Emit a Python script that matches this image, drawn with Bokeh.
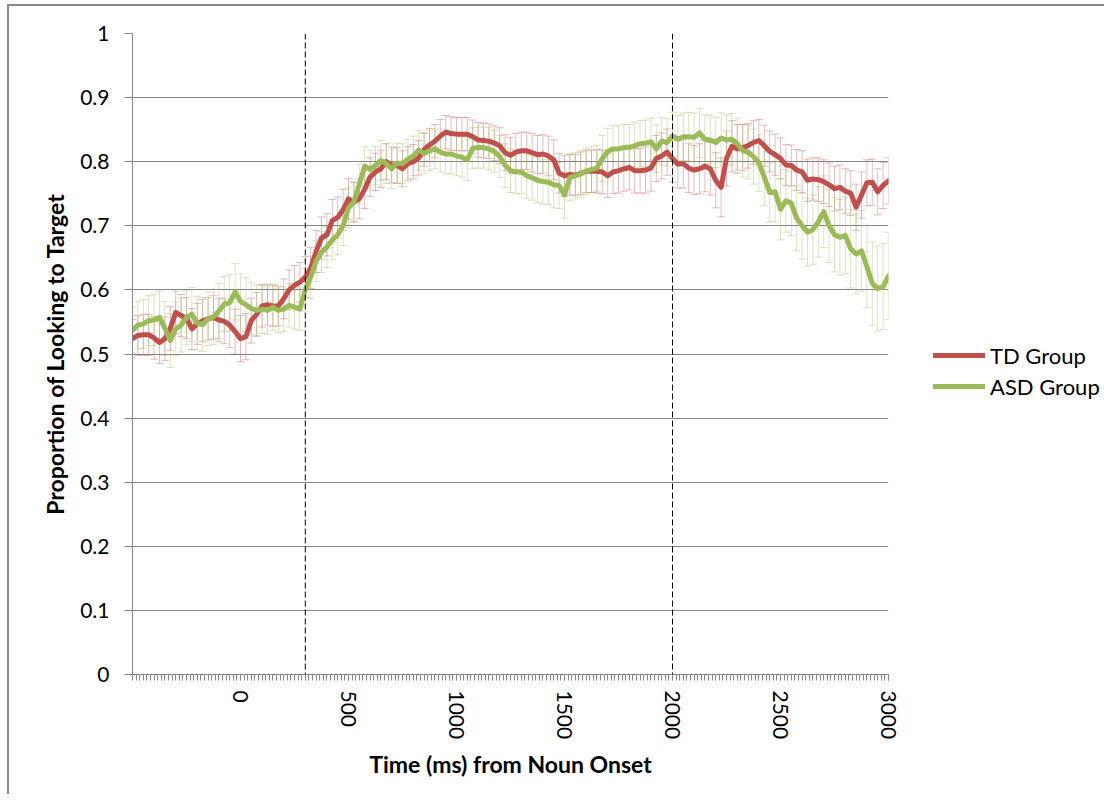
import math
from bokeh.plotting import figure
from bokeh.models import (ColumnDataSource, Span, Whisker, TeeHead, Legend, LegendItem,
                          FixedTicker, Range1d, NumeralTickFormatter)
from bokeh.embed import file_html
from bokeh.resources import INLINE

# ---------------- data ----------------
time_ms = list(range(-500, 3001, 25))

td_mean = [
    0.524, 0.529, 0.530, 0.530, 0.525, 0.518, 0.524, 0.540, 0.565, 0.560,
    0.556, 0.539, 0.547, 0.552, 0.555, 0.557, 0.553, 0.551, 0.545, 0.535,
    0.524, 0.527, 0.552, 0.562, 0.575, 0.577, 0.575, 0.575, 0.586, 0.600,
    0.607, 0.612, 0.620, 0.634, 0.660, 0.681, 0.686, 0.708, 0.713, 0.725,
    0.742, 0.737, 0.742, 0.757, 0.776, 0.784, 0.789, 0.800, 0.795, 0.794,
    0.789, 0.797, 0.800, 0.806, 0.819, 0.826, 0.832, 0.840, 0.846, 0.844,
    0.843, 0.843, 0.843, 0.839, 0.834, 0.833, 0.832, 0.829, 0.825, 0.814,
    0.810, 0.815, 0.817, 0.817, 0.814, 0.811, 0.812, 0.809, 0.803, 0.782,
    0.778, 0.780, 0.779, 0.782, 0.785, 0.785, 0.785, 0.784, 0.778, 0.784,
    0.786, 0.789, 0.791, 0.786, 0.786, 0.787, 0.790, 0.805, 0.809, 0.815,
    0.805, 0.796, 0.797, 0.790, 0.787, 0.789, 0.793, 0.789, 0.771, 0.760,
    0.805, 0.824, 0.820, 0.822, 0.825, 0.830, 0.833, 0.825, 0.816, 0.811,
    0.805, 0.795, 0.794, 0.787, 0.784, 0.771, 0.773, 0.772, 0.769, 0.764,
    0.758, 0.760, 0.754, 0.751, 0.729, 0.748, 0.767, 0.768, 0.753, 0.763,
    0.770,
]

td_err = [
    0.030, 0.031, 0.032, 0.032, 0.033, 0.033, 0.034, 0.034, 0.033, 0.033,
    0.032, 0.032, 0.032, 0.033, 0.033, 0.034, 0.034, 0.035, 0.035, 0.035,
    0.036, 0.036, 0.035, 0.034, 0.033, 0.032, 0.032, 0.031, 0.031, 0.031,
    0.031, 0.031, 0.032, 0.032, 0.033, 0.033, 0.033, 0.033, 0.032, 0.032,
    0.032, 0.031, 0.031, 0.030, 0.030, 0.029, 0.029, 0.028, 0.028, 0.028,
    0.028, 0.027, 0.027, 0.027, 0.026, 0.026, 0.026, 0.026, 0.026, 0.026,
    0.026, 0.026, 0.026, 0.026, 0.027, 0.027, 0.027, 0.027, 0.028, 0.028,
    0.028, 0.029, 0.029, 0.029, 0.030, 0.030, 0.030, 0.031, 0.031, 0.031,
    0.032, 0.032, 0.032, 0.033, 0.033, 0.033, 0.034, 0.034, 0.034, 0.034,
    0.035, 0.035, 0.035, 0.035, 0.035, 0.036, 0.036, 0.036, 0.036, 0.036,
    0.037, 0.037, 0.038, 0.038, 0.038, 0.039, 0.040, 0.041, 0.043, 0.046,
    0.043, 0.040, 0.038, 0.036, 0.035, 0.034, 0.033, 0.032, 0.032, 0.032,
    0.032, 0.032, 0.032, 0.032, 0.033, 0.033, 0.033, 0.034, 0.034, 0.034,
    0.035, 0.035, 0.035, 0.035, 0.036, 0.036, 0.036, 0.036, 0.036, 0.036,
    0.036,
]

asd_mean = [
    0.537, 0.545, 0.547, 0.552, 0.553, 0.557, 0.540, 0.521, 0.539, 0.545,
    0.557, 0.562, 0.548, 0.546, 0.555, 0.558, 0.567, 0.578, 0.580, 0.597,
    0.582, 0.577, 0.571, 0.568, 0.570, 0.568, 0.573, 0.568, 0.570, 0.576,
    0.573, 0.570, 0.600, 0.620, 0.645, 0.659, 0.667, 0.678, 0.686, 0.700,
    0.728, 0.737, 0.765, 0.793, 0.788, 0.794, 0.802, 0.797, 0.789, 0.798,
    0.797, 0.804, 0.809, 0.818, 0.813, 0.817, 0.820, 0.815, 0.812, 0.812,
    0.809, 0.807, 0.803, 0.821, 0.822, 0.822, 0.820, 0.816, 0.808, 0.794,
    0.786, 0.784, 0.784, 0.778, 0.775, 0.771, 0.769, 0.768, 0.764, 0.763,
    0.748, 0.775, 0.778, 0.781, 0.785, 0.788, 0.790, 0.805, 0.816, 0.820,
    0.820, 0.822, 0.822, 0.825, 0.828, 0.829, 0.831, 0.820, 0.832, 0.830,
    0.840, 0.835, 0.839, 0.839, 0.838, 0.845, 0.835, 0.834, 0.830, 0.837,
    0.834, 0.835, 0.828, 0.817, 0.815, 0.808, 0.798, 0.776, 0.752, 0.753,
    0.726, 0.739, 0.735, 0.712, 0.700, 0.690, 0.694, 0.706, 0.722, 0.700,
    0.686, 0.682, 0.685, 0.664, 0.656, 0.661, 0.636, 0.610, 0.602, 0.605,
    0.622,
]

asd_err = [
    0.036, 0.037, 0.038, 0.039, 0.040, 0.041, 0.042, 0.042, 0.042, 0.042,
    0.042, 0.042, 0.042, 0.042, 0.042, 0.043, 0.043, 0.043, 0.044, 0.044,
    0.043, 0.042, 0.041, 0.040, 0.038, 0.037, 0.036, 0.035, 0.035, 0.034,
    0.034, 0.033, 0.033, 0.033, 0.032, 0.032, 0.032, 0.031, 0.031, 0.031,
    0.031, 0.031, 0.031, 0.030, 0.030, 0.030, 0.031, 0.031, 0.031, 0.031,
    0.031, 0.031, 0.031, 0.031, 0.031, 0.031, 0.031, 0.031, 0.031, 0.031,
    0.031, 0.031, 0.032, 0.032, 0.032, 0.032, 0.033, 0.033, 0.033, 0.034,
    0.034, 0.034, 0.034, 0.035, 0.035, 0.035, 0.035, 0.035, 0.036, 0.036,
    0.036, 0.036, 0.036, 0.036, 0.036, 0.036, 0.036, 0.036, 0.036, 0.036,
    0.036, 0.036, 0.036, 0.036, 0.036, 0.036, 0.037, 0.037, 0.037, 0.037,
    0.037, 0.037, 0.037, 0.038, 0.038, 0.038, 0.038, 0.038, 0.039, 0.039,
    0.039, 0.040, 0.040, 0.041, 0.042, 0.043, 0.044, 0.045, 0.046, 0.047,
    0.048, 0.049, 0.050, 0.051, 0.052, 0.053, 0.054, 0.055, 0.056, 0.057,
    0.058, 0.059, 0.060, 0.061, 0.062, 0.063, 0.064, 0.065, 0.066, 0.067,
    0.068,
]

x_tick_values = [0, 500, 1000, 1500, 2000, 2500, 3000]
y_tick_values = [0, 0.1, 0.2, 0.3, 0.4, 0.5, 0.6, 0.7, 0.8, 0.9, 1]
marker_times = [300, 2000]
series_names = ["TD Group", "ASD Group"]

# category tick marks of the time axis (one per 60 Hz sample)
minor_tick_values = [-500 + i * 50.0 / 3.0 for i in range(211)]

# ---------------- styling ----------------
FONT = "Lato"
TD_COLOR = "#C0504D"
ASD_COLOR = "#9BBB59"
GRID = "#868686"

p = figure(frame_width=756, frame_height=641, output_backend="svg", toolbar_location=None,
           x_range=Range1d(-500, 3000), y_range=Range1d(0, 1),
           min_border_left=123, min_border_right=205, min_border_top=27,
           min_border_bottom=120)
p.styles = {"margin-left": "7px", "margin-top": "4px",
            "border-left": "2px solid #8a8a8a", "border-top": "2px solid #8a8a8a"}
p.outline_line_color = None
p.background_fill_color = "white"
p.border_fill_color = "white"

td_src = ColumnDataSource(dict(
    t=time_ms, m=td_mean,
    lo=[m - e for m, e in zip(td_mean, td_err)],
    hi=[m + e for m, e in zip(td_mean, td_err)]))
asd_src = ColumnDataSource(dict(
    t=time_ms, m=asd_mean,
    lo=[m - e for m, e in zip(asd_mean, asd_err)],
    hi=[m + e for m, e in zip(asd_mean, asd_err)]))

for src, col in ((td_src, TD_COLOR), (asd_src, ASD_COLOR)):
    w = Whisker(source=src, base="t", lower="lo", upper="hi", dimension="height",
                line_color=col, line_alpha=0.38, line_width=1,
                upper_head=TeeHead(size=8, line_color=col, line_alpha=0.38, line_width=1),
                lower_head=TeeHead(size=8, line_color=col, line_alpha=0.38, line_width=1),
                level="underlay")
    p.add_layout(w)

for t in marker_times:
    p.add_layout(Span(location=t, dimension="height", line_color="black",
                      line_width=1, line_dash="6 3"))

r_td = p.line("t", "m", source=td_src, line_color=TD_COLOR, line_width=5,
              line_join="round", line_cap="round")
r_asd = p.line("t", "m", source=asd_src, line_color=ASD_COLOR, line_width=5,
               line_join="round", line_cap="round")

# axes
p.xaxis.ticker = FixedTicker(ticks=x_tick_values, minor_ticks=minor_tick_values)
p.yaxis.ticker = FixedTicker(ticks=y_tick_values)
p.yaxis.formatter = NumeralTickFormatter(format="0.[0]")

for ax in (p.xaxis[0], p.yaxis[0]):
    ax.axis_line_color = GRID
    ax.major_tick_line_color = GRID
    ax.minor_tick_line_color = GRID
    ax.major_tick_in = 0
    ax.minor_tick_in = 0
    ax.major_label_text_font = FONT
    ax.major_label_text_font_size = "21px"
    ax.major_label_text_color = "black"
    ax.axis_label_text_font = FONT
    ax.axis_label_text_font_size = "23px"
    ax.axis_label_text_font_style = "bold"
    ax.axis_label_text_color = "black"

p.xaxis.major_tick_out = 6
p.xaxis.minor_tick_out = 6
p.xaxis.major_label_orientation = -math.pi / 2
p.xaxis.major_label_standoff = 10
p.xaxis.axis_label = "Time (ms) from Noun Onset"
p.xaxis.axis_label_standoff = 8

p.yaxis.major_tick_out = 8
p.yaxis.minor_tick_line_color = None
p.yaxis.major_label_standoff = 15
p.yaxis.axis_label = "Proportion of Looking to Target"
p.yaxis.axis_label_standoff = 8

p.xgrid.grid_line_color = None
p.ygrid.grid_line_color = GRID
p.ygrid.grid_line_width = 1

legend = Legend(items=[LegendItem(label=series_names[0], renderers=[r_td]),
                       LegendItem(label=series_names[1], renderers=[r_asd])],
                location="center_left", orientation="vertical",
                title=" ", title_text_font_size="22px", title_standoff=8,
                glyph_width=52, glyph_height=20, label_height=20, label_standoff=5,
                spacing=4, padding=0, margin=45,
                border_line_color=None, background_fill_alpha=0,
                label_text_font=FONT, label_text_font_size="22px",
                label_text_color="black")
p.add_layout(legend, "right")

open("out.html", "w").write(file_html(p, INLINE))
